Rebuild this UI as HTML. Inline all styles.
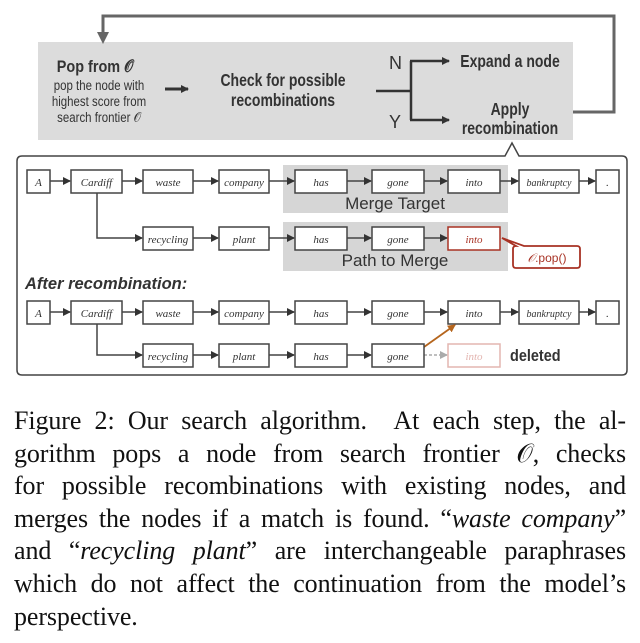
<!DOCTYPE html>
<html><head><meta charset="utf-8"><style>
html,body{margin:0;padding:0;background:#fff;width:640px;height:643px;overflow:hidden;position:relative}
svg{position:absolute;left:0;top:0}
.cap{position:absolute;left:14px;width:612px;font-family:"Liberation Serif",serif;font-size:26px;line-height:32.6px;top:405px;text-align:justify;color:#111;letter-spacing:-0.1px}
.cap .l{display:block;text-align:justify;text-align-last:justify;white-space:nowrap;height:32.6px}
.cap .last{text-align-last:left}
</style></head><body>
<svg width="640" height="400" viewBox="0 0 640 400" font-family="Liberation Sans, sans-serif">
<defs>
<marker id="a" markerWidth="8" markerHeight="8" refX="7" refY="4" orient="auto" markerUnits="userSpaceOnUse"><path d="M0,0 L8,4 L0,8z" fill="#333"/></marker>
<marker id="g" markerWidth="12" markerHeight="12" refX="6" refY="6" orient="auto" markerUnits="userSpaceOnUse"><path d="M0,0 L12,6 L0,12z" fill="#666"/></marker>
<marker id="o" markerWidth="8" markerHeight="8" refX="7" refY="4" orient="auto" markerUnits="userSpaceOnUse"><path d="M0,0 L8,4 L0,8z" fill="#b5651d"/></marker>
<marker id="d" markerWidth="8" markerHeight="8" refX="7" refY="4" orient="auto" markerUnits="userSpaceOnUse"><path d="M0,0 L8,4 L0,8z" fill="#aaa"/></marker>
</defs>
<rect x="38" y="42" width="535" height="98" fill="#dcdcdc"/>
<polyline points="573,112 614,112 614,16 103,16 103,38" fill="none" stroke="#666" stroke-width="3" marker-end="url(#g)"/>
<g fill="#333" text-anchor="middle">
<text x="95" y="72" font-size="17" font-weight="bold" transform="translate(95,0) scale(0.85,1) translate(-95,0)">Pop from 𝒪</text>
<text x="99" y="90" font-size="13.5" transform="translate(99,0) scale(0.85,1) translate(-99,0)">pop the node with</text>
<text x="99" y="106" font-size="13.5" transform="translate(99,0) scale(0.85,1) translate(-99,0)">highest score from</text>
<text x="99" y="122" font-size="13.5" transform="translate(99,0) scale(0.85,1) translate(-99,0)">search frontier 𝒪</text>
<text x="283" y="86" font-size="17.5" font-weight="bold" transform="translate(283,0) scale(0.8,1) translate(-283,0)">Check for possible</text>
<text x="283" y="106" font-size="17.5" font-weight="bold" transform="translate(283,0) scale(0.8,1) translate(-283,0)">recombinations</text>
<text x="510" y="67" font-size="17.5" font-weight="bold" transform="translate(510,0) scale(0.8,1) translate(-510,0)">Expand a node</text>
<text x="510" y="115" font-size="17.5" font-weight="bold" transform="translate(510,0) scale(0.8,1) translate(-510,0)">Apply</text>
<text x="510" y="134" font-size="17.5" font-weight="bold" transform="translate(510,0) scale(0.8,1) translate(-510,0)">recombination</text>
</g>
<line x1="165" y1="89" x2="188" y2="89" stroke="#333" stroke-width="3" marker-end="url(#a)"/>
<line x1="376" y1="91" x2="411" y2="91" stroke="#333" stroke-width="2.5"/>
<polyline points="411,61 411,120" fill="none" stroke="#333" stroke-width="2.5"/>
<line x1="410" y1="61" x2="449" y2="61" stroke="#333" stroke-width="2.5" marker-end="url(#a)"/>
<line x1="410" y1="120" x2="449" y2="120" stroke="#333" stroke-width="2.5" marker-end="url(#a)"/>
<text x="389" y="69" font-size="18" fill="#333">N</text>
<text x="389" y="128" font-size="18" fill="#333">Y</text>
<path d="M22,156 L505,156 L512,143 L519,156 L622,156 Q627,156 627,161 L627,370 Q627,375 622,375 L22,375 Q17,375 17,370 L17,161 Q17,156 22,156z" fill="#fff" stroke="#444" stroke-width="1.5"/>
<rect x="283" y="165" width="225" height="48" fill="#d6d6d6"/>
<rect x="283" y="222" width="225" height="49" fill="#d6d6d6"/>
<text x="395" y="209" font-size="17" text-anchor="middle" fill="#333">Merge Target</text>
<text x="395" y="266" font-size="17" text-anchor="middle" fill="#333">Path to Merge</text>
<text x="25" y="289" font-size="16.5" font-weight="bold" font-style="italic" fill="#333">After recombination:</text>
<g font-family="Liberation Serif, serif" font-style="italic" font-size="11" fill="#333" text-anchor="middle" stroke-width="1.5">
<rect x="27" y="170" width="23" height="23" fill="#fff" stroke="#444"/><text x="38.5" y="186">A</text>
<rect x="71" y="170" width="51" height="23" fill="#fff" stroke="#444"/><text x="96.5" y="186">Cardiff</text>
<rect x="143" y="170" width="50" height="23" fill="#fff" stroke="#444"/><text x="168" y="186">waste</text>
<rect x="219" y="170" width="50" height="23" fill="#fff" stroke="#444"/><text x="244" y="186">company</text>
<rect x="295" y="170" width="52" height="23" fill="#fff" stroke="#444"/><text x="321" y="186">has</text>
<rect x="372" y="170" width="52" height="23" fill="#fff" stroke="#444"/><text x="398" y="186">gone</text>
<rect x="448" y="170" width="52" height="23" fill="#fff" stroke="#444"/><text x="474" y="186">into</text>
<rect x="519" y="170" width="60" height="23" fill="#fff" stroke="#444"/><text x="549" y="186" font-size="10">bankruptcy</text>
<rect x="596" y="170" width="23" height="23" fill="#fff" stroke="#444"/><text x="607.5" y="186">.</text>
<g stroke="#444" fill="none" stroke-width="1.5">
<line x1="50" y1="181" x2="70" y2="181" marker-end="url(#a)"/><line x1="122" y1="181" x2="142" y2="181" marker-end="url(#a)"/><line x1="193" y1="181" x2="218" y2="181" marker-end="url(#a)"/><line x1="269" y1="181" x2="294" y2="181" marker-end="url(#a)"/><line x1="347" y1="181" x2="371" y2="181" marker-end="url(#a)"/><line x1="424" y1="181" x2="447" y2="181" marker-end="url(#a)"/><line x1="500" y1="181" x2="518" y2="181" marker-end="url(#a)"/><line x1="579" y1="181" x2="595" y2="181" marker-end="url(#a)"/>
<polyline points="97,193 97,238 142,238" marker-end="url(#a)"/>
<line x1="193" y1="238" x2="218" y2="238" marker-end="url(#a)"/><line x1="269" y1="238" x2="294" y2="238" marker-end="url(#a)"/><line x1="347" y1="238" x2="371" y2="238" marker-end="url(#a)"/><line x1="424" y1="238" x2="447" y2="238" marker-end="url(#a)"/>
</g>
<rect x="143" y="227" width="50" height="23" fill="#fff" stroke="#444"/><text x="168" y="243">recycling</text>
<rect x="219" y="227" width="50" height="23" fill="#fff" stroke="#444"/><text x="244" y="243">plant</text>
<rect x="295" y="227" width="52" height="23" fill="#fff" stroke="#444"/><text x="321" y="243">has</text>
<rect x="372" y="227" width="52" height="23" fill="#fff" stroke="#444"/><text x="398" y="243">gone</text>
<rect x="448" y="227" width="52" height="23" fill="#fff" stroke="#a83224"/><text x="474" y="243" fill="#a83224">into</text>
<rect x="27" y="301" width="23" height="23" fill="#fff" stroke="#444"/><text x="38.5" y="317">A</text>
<rect x="71" y="301" width="51" height="23" fill="#fff" stroke="#444"/><text x="96.5" y="317">Cardiff</text>
<rect x="143" y="301" width="50" height="23" fill="#fff" stroke="#444"/><text x="168" y="317">waste</text>
<rect x="219" y="301" width="50" height="23" fill="#fff" stroke="#444"/><text x="244" y="317">company</text>
<rect x="295" y="301" width="52" height="23" fill="#fff" stroke="#444"/><text x="321" y="317">has</text>
<rect x="372" y="301" width="52" height="23" fill="#fff" stroke="#444"/><text x="398" y="317">gone</text>
<rect x="448" y="301" width="52" height="23" fill="#fff" stroke="#444"/><text x="474" y="317">into</text>
<rect x="519" y="301" width="60" height="23" fill="#fff" stroke="#444"/><text x="549" y="317" font-size="10">bankruptcy</text>
<rect x="596" y="301" width="23" height="23" fill="#fff" stroke="#444"/><text x="607.5" y="317">.</text>
<g stroke="#444" fill="none" stroke-width="1.5">
<line x1="50" y1="312" x2="70" y2="312" marker-end="url(#a)"/><line x1="122" y1="312" x2="142" y2="312" marker-end="url(#a)"/><line x1="193" y1="312" x2="218" y2="312" marker-end="url(#a)"/><line x1="269" y1="312" x2="294" y2="312" marker-end="url(#a)"/><line x1="347" y1="312" x2="371" y2="312" marker-end="url(#a)"/><line x1="424" y1="312" x2="447" y2="312" marker-end="url(#a)"/><line x1="500" y1="312" x2="518" y2="312" marker-end="url(#a)"/><line x1="579" y1="312" x2="595" y2="312" marker-end="url(#a)"/>
<polyline points="97,324 97,355 142,355" marker-end="url(#a)"/>
<line x1="193" y1="355" x2="218" y2="355" marker-end="url(#a)"/><line x1="269" y1="355" x2="294" y2="355" marker-end="url(#a)"/><line x1="347" y1="355" x2="371" y2="355" marker-end="url(#a)"/>
</g>
<line x1="424" y1="355" x2="447" y2="355" stroke="#aaa" stroke-width="1.5" stroke-dasharray="3,2" marker-end="url(#d)"/>
<line x1="424" y1="347" x2="455" y2="325" stroke="#b5651d" stroke-width="1.8" marker-end="url(#o)"/>
<rect x="143" y="344" width="50" height="23" fill="#fff" stroke="#444"/><text x="168" y="360">recycling</text>
<rect x="219" y="344" width="50" height="23" fill="#fff" stroke="#444"/><text x="244" y="360">plant</text>
<rect x="295" y="344" width="52" height="23" fill="#fff" stroke="#444"/><text x="321" y="360">has</text>
<rect x="372" y="344" width="52" height="23" fill="#fff" stroke="#444"/><text x="398" y="360">gone</text>
<rect x="448" y="344" width="52" height="23" fill="#fff" stroke="#e3b5b0"/><text x="474" y="360" fill="#e3b5b0">into</text>
</g>
<text x="510" y="361" font-size="17" font-weight="bold" fill="#333" transform="translate(510,0) scale(0.85,1) translate(-510,0)">deleted</text>
<path d="M516,246 Q513,246 513,249 L513,265 Q513,268 516,268 L577,268 Q580,268 580,265 L580,249 Q580,246 577,246 L524,246 L502,238z" fill="#fff" stroke="#a83224" stroke-width="1.8"/>
<text x="547" y="262" font-size="12" text-anchor="middle" fill="#a83224"><tspan font-style="italic" font-family="Liberation Serif, serif">𝒪</tspan>.pop()</text>
</svg>
<div class="cap">
<span class="l">Figure 2: Our search algorithm. &nbsp;At each step, the al-</span>
<span class="l">gorithm pops a node from search frontier 𝒪, checks</span>
<span class="l">for possible recombinations with existing nodes, and</span>
<span class="l">merges the nodes if a match is found. “<i>waste company</i>”</span>
<span class="l">and “<i>recycling plant</i>” are interchangeable paraphrases</span>
<span class="l">which do not affect the continuation from the model’s</span>
<span class="l last">perspective.</span>
</div>
</body></html>
